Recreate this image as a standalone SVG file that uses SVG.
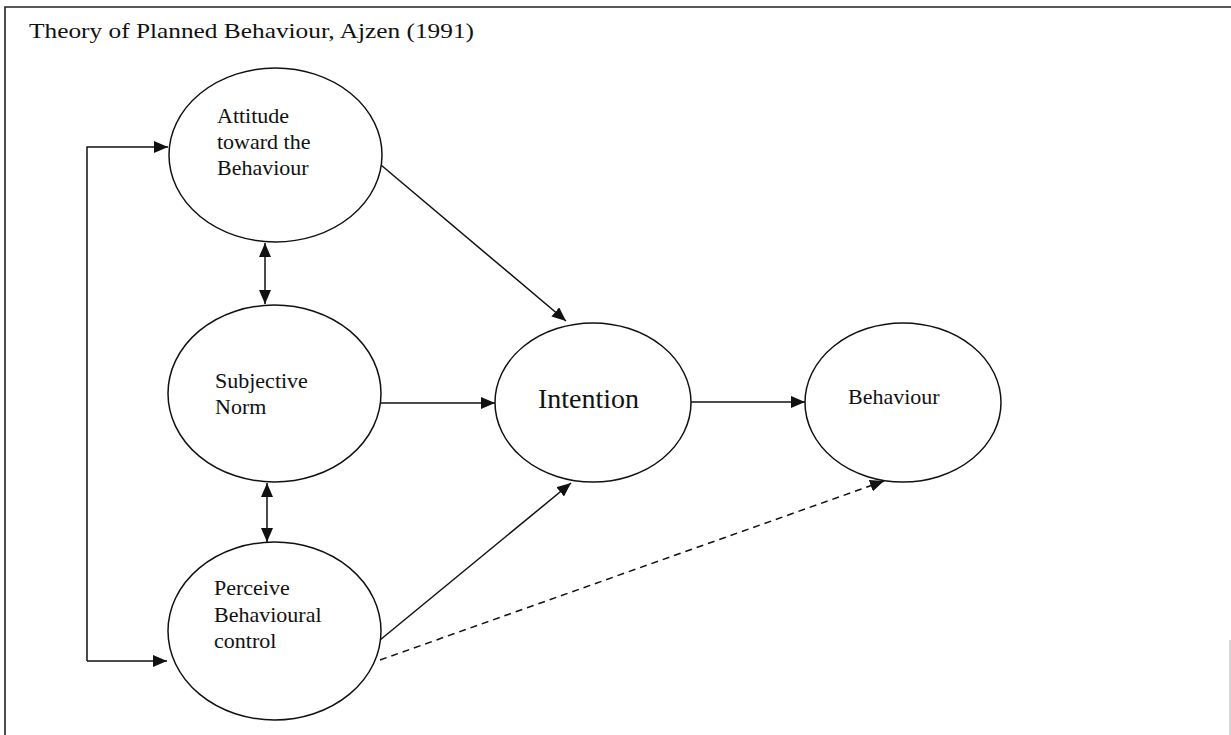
<svg xmlns="http://www.w3.org/2000/svg" width="1231" height="735" viewBox="0 0 1231 735">
  <style>
    .node { fill: #ffffff; stroke: #111111; stroke-width: 1.5; }
    .lbl { font-family: "Liberation Serif", "Times New Roman", serif; font-size: 22px; fill: #111111; }
    .title { font-family: "Liberation Serif", "Times New Roman", serif; font-size: 21px; fill: #111111; }
    .edge { fill: none; stroke: #111111; stroke-width: 1.5; }
    .dash { stroke-dasharray: 7 5; }
    .frame { fill: none; stroke: #222222; stroke-width: 1.6; }
  </style>
  <defs>
    <marker id="arr" viewBox="0 0 14 12" refX="14" refY="6" markerWidth="14" markerHeight="12" markerUnits="userSpaceOnUse" orient="auto-start-reverse">
      <path d="M0,0 L14,6 L0,12 Z" fill="#111111"/>
    </marker>
  </defs>
  <rect width="1231" height="735" fill="#ffffff"/>
  <g id="frame">
    <path class="frame" d="M5,735 L5,7 L1231,7"/>
    <path d="M1230,640 L1230,735" stroke="#bbbbbb" stroke-width="1.2" fill="none"/>
    <text class="title" x="29" y="38" textLength="445" lengthAdjust="spacingAndGlyphs">Theory of Planned Behaviour, Ajzen (1991)</text>
  </g>
  <g id="connectors">
    <path class="edge" d="M87,661 L87,147 L168,147" marker-end="url(#arr)"/>
    <path class="edge" d="M87,661 L167,661" marker-end="url(#arr)"/>
    <path class="edge" d="M265,243 L265,304" marker-start="url(#arr)" marker-end="url(#arr)"/>
    <path class="edge" d="M267,483 L267,542" marker-start="url(#arr)" marker-end="url(#arr)"/>
    <path class="edge" d="M381,165 L566,321" marker-end="url(#arr)"/>
    <path class="edge" d="M381,403 L495,403" marker-end="url(#arr)"/>
    <path class="edge" d="M691,402 L805,402" marker-end="url(#arr)"/>
    <path class="edge" d="M380,640 L571,483" marker-end="url(#arr)"/>
    <path class="edge dash" d="M380,660 L884,481" marker-end="url(#arr)"/>
  </g>
  <g id="attitude">
    <ellipse class="node" cx="275.5" cy="155" rx="106.5" ry="87"/>
    <text class="lbl" x="217" y="123">Attitude</text>
    <text class="lbl" x="217" y="149">toward the</text>
    <text class="lbl" x="217" y="175">Behaviour</text>
  </g>
  <g id="subjective-norm">
    <ellipse class="node" cx="274.5" cy="393.5" rx="106.5" ry="88.5"/>
    <text class="lbl" x="215" y="388">Subjective</text>
    <text class="lbl" x="215" y="414">Norm</text>
  </g>
  <g id="perceived-control">
    <ellipse class="node" cx="274.5" cy="631" rx="106.5" ry="89"/>
    <text class="lbl" x="214" y="595">Perceive</text>
    <text class="lbl" x="214" y="622">Behavioural</text>
    <text class="lbl" x="214" y="648">control</text>
  </g>
  <g id="intention">
    <ellipse class="node" cx="593" cy="402.5" rx="98" ry="79.5"/>
    <text class="lbl" x="538" y="408" style="font-size:28px">Intention</text>
  </g>
  <g id="behaviour">
    <ellipse class="node" cx="903" cy="402.5" rx="98" ry="79.5"/>
    <text class="lbl" x="848" y="404">Behaviour</text>
  </g>
</svg>
